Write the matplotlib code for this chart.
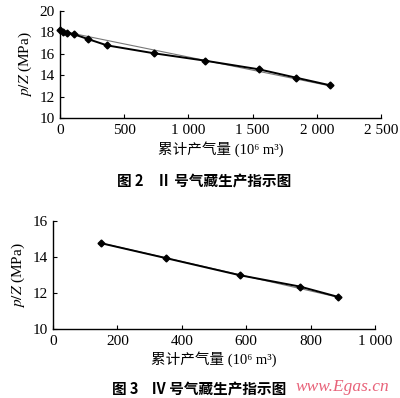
import matplotlib.pyplot as plt

plt.rcParams['font.family'] = ['Liberation Serif', 'Noto Sans CJK SC', 'DejaVu Sans']
plt.rcParams['mathtext.fontset'] = 'stix'

# 图 2: II 号气藏
gp2 = [0, 20, 55, 110, 218, 366, 732, 1129, 1550, 1838, 2103]
pz2 = [18.22, 18.07, 17.97, 17.82, 17.38, 16.79, 16.05, 15.36, 14.55, 13.77, 13.06]
fit2_x = [0, 2103]
fit2_y = [18.15, 13.0]
xticks2 = [0, 500, 1000, 1500, 2000, 2500]
xlabels2 = ['0', '500', '1 000', '1 500', '2 000', '2 500']
yticks2 = [10, 12, 14, 16, 18, 20]

# 图 3: IV 号气藏
gp3 = [150, 350, 580, 767, 885]
pz3 = [14.75, 13.93, 12.98, 12.35, 11.78]
fit3_x = [150, 885]
fit3_y = [14.76, 11.76]
xticks3 = [0, 200, 400, 600, 800, 1000]
xlabels3 = ['0', '200', '400', '600', '800', '1 000']
yticks3 = [10, 12, 14, 16]

xlab = '累计产气量 (10⁶ m³)'
ylab = '$p/Z$ (MPa)'

fig = plt.figure(figsize=(4.0, 3.98), dpi=100)


def style(ax):
    for s in ['top', 'right']:
        ax.spines[s].set_visible(False)
    for s in ['left', 'bottom']:
        ax.spines[s].set_linewidth(1.0)
    ax.tick_params(direction='in', length=3, width=0.8, labelsize=11, pad=4)


ax1 = fig.add_axes([0.15, 0.7035, 0.8025, 0.2688])
ax1.plot(fit2_x, fit2_y, color='#777777', lw=0.8)
ax1.plot(gp2, pz2, color='black', lw=1.4, marker='D', ms=3.5, clip_on=False)
ax1.set_xlim(0, 2500)
ax1.set_ylim(10, 20)
ax1.set_xticks(xticks2, xlabels2)
ax1.set_yticks(yticks2)
style(ax1)
ax1.set_xlabel(xlab, fontsize=10.5, labelpad=3)
ax1.set_ylabel(ylab, fontsize=11, labelpad=4)

ax2 = fig.add_axes([0.1325, 0.1734, 0.805, 0.2721])
ax2.plot(fit3_x, fit3_y, color='#777777', lw=0.8)
ax2.plot(gp3, pz3, color='black', lw=1.4, marker='D', ms=3.5, clip_on=False)
ax2.set_xlim(0, 1000)
ax2.set_ylim(10, 16)
ax2.set_xticks(xticks3, xlabels3)
ax2.set_yticks(yticks3)
style(ax2)
ax2.set_xlabel(xlab, fontsize=10.5, labelpad=3)
ax2.set_ylabel(ylab, fontsize=11, labelpad=4)

fig.text(0.51, 1 - 181 / 398, '图 2    Ⅱ 号气藏生产指示图', ha='center', va='center',
         fontsize=10.5, fontweight='bold', family=['Noto Sans CJK SC', 'DejaVu Sans'])
fig.text(0.28, 1 - 389 / 398, '图 3    Ⅳ 号气藏生产指示图', ha='left', va='center',
         fontsize=10.5, fontweight='bold', family=['Noto Sans CJK SC', 'DejaVu Sans'])
fig.text(0.74, 1 - 387 / 398, 'www.Egas.cn', ha='left', va='center', fontsize=12.5,
         style='italic', color='#e8637a', family='Liberation Serif')

fig.savefig('out.png', dpi=100)
